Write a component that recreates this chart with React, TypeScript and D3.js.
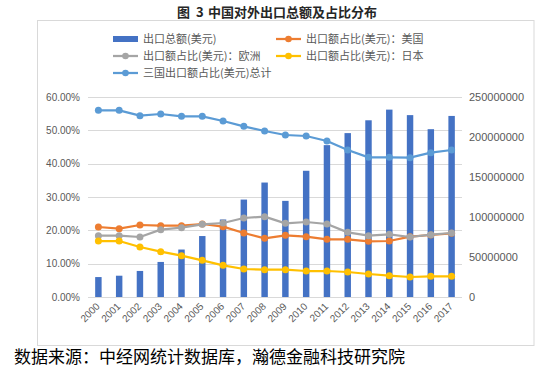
import React from "react";
import * as d3 from "d3";

const years = ["2000","2001","2002","2003","2004","2005","2006","2007","2008","2009","2010","2011","2012","2013","2014","2015","2016","2017"];
const exportTotal = [24920000,26610000,32560000,43820000,59330000,76195000,96890000,121780000,143070000,120160000,157780000,189840000,204870000,220900000,234230000,227350000,209760000,226330000];
const shareUS = [21.0,20.5,21.6,21.4,21.4,21.9,21.1,19.2,17.6,18.5,18.1,17.3,17.3,16.7,16.8,18.1,18.6,19.1];
const shareEU = [18.4,18.4,18.0,20.2,20.8,21.8,22.2,23.7,24.1,22.1,22.5,21.9,19.4,18.4,18.8,18.0,18.7,19.2];
const shareJP = [16.8,16.8,15.0,13.6,12.4,11.0,9.5,8.4,8.2,8.2,7.8,7.8,7.5,6.9,6.4,6.0,6.2,6.2];
const shareTotal = [56.0,56.0,54.4,54.9,54.2,54.2,52.8,51.2,49.8,48.6,48.3,46.8,44.1,41.9,41.9,41.8,43.3,44.1];
const leftTicks = [0,10,20,30,40,50,60];
const rightTicks = [0,50000000,100000000,150000000,200000000,250000000];

const titleParts = ["图", "3", "中国对外出口总额及占比分布"];
const source = "数据来源：中经网统计数据库，瀚德金融科技研究院";
const barName = "出口总额(美元)";
const lineSeries = [
  { name: "出口额占比(美元)：美国", values: shareUS, color: "#ED7D31" },
  { name: "出口额占比(美元)：欧洲", values: shareEU, color: "#A5A5A5" },
  { name: "出口额占比(美元)：日本", values: shareJP, color: "#FFC000" },
  { name: "三国出口额占比(美元)总计", values: shareTotal, color: "#5B9BD5" },
];

const W = 550, H = 376;
const plotL = 88, plotR = 462, plotT = 97, plotB = 297;
const txt = "#595959";
const numFont = "'Liberation Sans', Arial, sans-serif";
const cjkFont = "'Noto Sans CJK SC', sans-serif";

export default function App() {
  const x = d3.scaleBand<string>().domain(years).range([plotL, plotR]).paddingInner(0.69).paddingOuter(0.345);
  const yL = d3.scaleLinear().domain([0, 60]).range([plotB, plotT]);
  const yR = d3.scaleLinear().domain([0, 250000000]).range([plotB, plotT]);
  const cx = (y: string) => (x(y) as number) + x.bandwidth() / 2;
  const line = d3.line<number>().x((_, i) => cx(years[i])).y(v => yL(v));

  const legendItems = [
    { name: barName, color: "#4472C4", bar: true, lx: 113, ly: 39 },
    { name: lineSeries[0].name, color: lineSeries[0].color, bar: false, lx: 276, ly: 39 },
    { name: lineSeries[1].name, color: lineSeries[1].color, bar: false, lx: 113, ly: 56 },
    { name: lineSeries[2].name, color: lineSeries[2].color, bar: false, lx: 276, ly: 56 },
    { name: lineSeries[3].name, color: lineSeries[3].color, bar: false, lx: 113, ly: 73 },
  ];

  return (
    <svg width={W} height={H} style={{ position: "absolute", left: 0, top: 0, background: "#fff" }}>
      <rect x={0} y={0} width={W} height={H} fill="#fff" />
      <g fontFamily={cjkFont} fontWeight="bold" fontSize={13} fill="#262626">
        <text x={177} y={17}>{titleParts[0]}</text>
        <text x={196} y={17}>{titleParts[1]}</text>
        <text x={208} y={17}>{titleParts[2]}</text>
      </g>
      <rect x={37.5} y={20.5} width={496.5} height={325} fill="#fff" stroke="#d9d9d9" strokeWidth={1} />
      {legendItems.map((it, i) => (
        <g key={i}>
          {it.bar ? (
            <rect x={it.lx} y={it.ly - 3} width={25} height={6} fill={it.color} />
          ) : (
            <g>
              <line x1={it.lx} x2={it.lx + 25} y1={it.ly} y2={it.ly} stroke={it.color} strokeWidth={2.25} />
              <circle cx={it.lx + 12.5} cy={it.ly} r={3.3} fill={it.color} />
            </g>
          )}
          <text x={it.lx + 30} y={it.ly + 4} fontFamily={cjkFont} fontSize={11} fill={txt}>{it.name}</text>
        </g>
      ))}
      {leftTicks.map(t => (
        <g key={t}>
          <line x1={plotL} x2={plotR} y1={Math.round(yL(t)) + 0.5} y2={Math.round(yL(t)) + 0.5} stroke="#d9d9d9" strokeWidth={1} />
          <text x={80} y={yL(t) + 3.5} textAnchor="end" fontFamily={numFont} fontSize={10} fill={txt}>{t.toFixed(2) + "%"}</text>
        </g>
      ))}
      {rightTicks.map(t => (
        <text key={t} x={469} y={yR(t) + 4} fontFamily={numFont} fontSize={11} fill={txt}>{String(t)}</text>
      ))}
      {years.map((yr, i) => (
        <rect key={yr} x={x(yr)} y={yR(exportTotal[i])} width={x.bandwidth()} height={plotB - yR(exportTotal[i])} fill="#4472C4" />
      ))}
      {lineSeries.map(s => (
        <g key={s.name}>
          <path d={line(s.values) || ""} fill="none" stroke={s.color} strokeWidth={2.25} strokeLinejoin="round" />
          {s.values.map((v, i) => (
            <circle key={i} cx={cx(years[i])} cy={yL(v)} r={3.5} fill={s.color} />
          ))}
        </g>
      ))}
      {years.map(yr => (
        <text key={yr} transform={`translate(${cx(yr) + 2},${plotB + 10}) rotate(-45)`} textAnchor="end" fontFamily={numFont} fontSize={10} fill={txt}>{yr}</text>
      ))}
      <text x={14} y={363} fontFamily={cjkFont} fontSize={17} fill="#000">{source}</text>
    </svg>
  );
}
